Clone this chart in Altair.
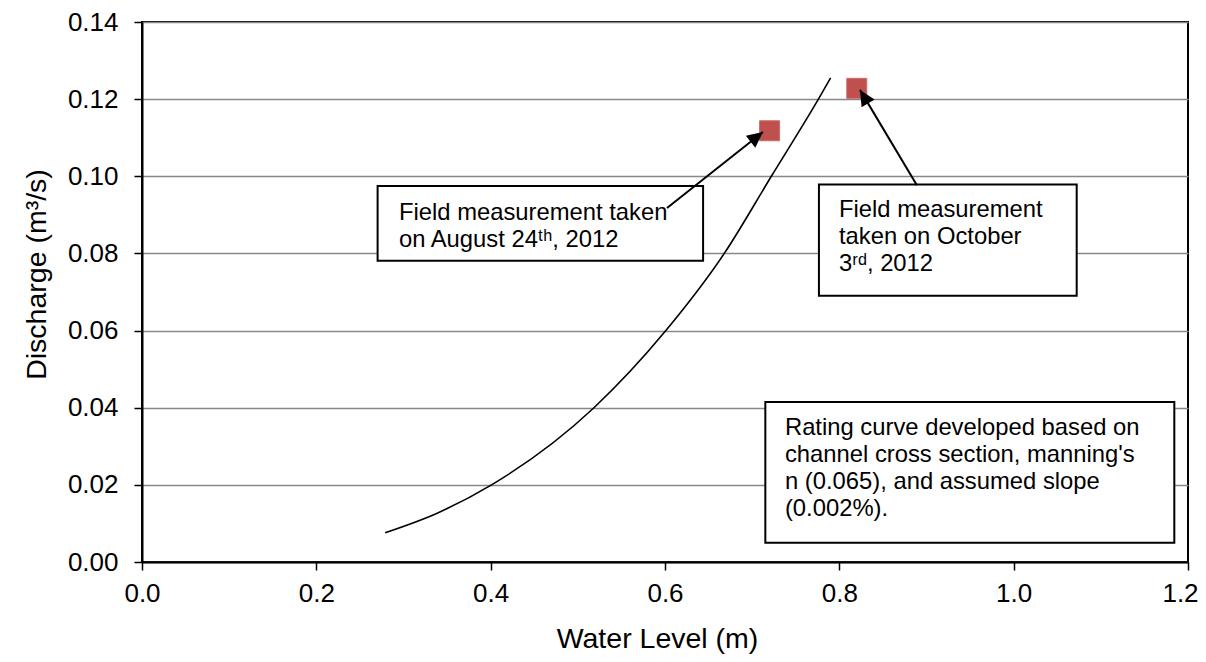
import math
import altair as alt
import pandas as pd

# ---- data ----
curve_level = [0.279, 0.338, 0.401, 0.5185, 0.601, 0.668, 0.722, 0.776, 0.790]
curve_discharge = [0.0076, 0.0126, 0.020, 0.040, 0.060, 0.080, 0.100, 0.120, 0.1255]

field_level = [0.72, 0.82]
field_discharge = [0.1118, 0.1228]

x_ticks = [0.0, 0.2, 0.4, 0.6, 0.8, 1.0, 1.2]
y_ticks = [0.00, 0.02, 0.04, 0.06, 0.08, 0.10, 0.12, 0.14]

note_lines = [
    ["Field measurement taken", "on August 24\u1d57\u02b0, 2012"],
    ["Field measurement", "taken on October", "3\u02b3\u1d48, 2012"],
    ["Rating curve developed based on", "channel cross section, manning's",
     "n (0.065), and assumed slope", "(0.002%)."],
]
note_box_x1 = [0.2703, 0.7766, 0.7151]
note_box_x2 = [0.6437, 1.0723, 1.1843]
note_box_y1 = [0.0781, 0.0690, 0.0050]
note_box_y2 = [0.0975, 0.0979, 0.0415]
note_text_x = [0.2948, 0.7996, 0.7376]
note_text_y = [0.0887, 0.0895, 0.0329]

arrow_x_from = [0.6023, 0.8890]
arrow_y_from = [0.0918, 0.0977]
arrow_x_to = [0.7124, 0.8237]
arrow_y_to = [0.1115, 0.1224]

# ---- layout ----
W, H = 1046, 540
X_MAX, Y_MAX = 1.2, 0.14
FONT = "Liberation Sans"

curve_df = pd.DataFrame({"level": curve_level, "q": curve_discharge})
field_df = pd.DataFrame({"level": field_level, "q": field_discharge})
box_df = pd.DataFrame({"x1": note_box_x1, "x2": note_box_x2, "y1": note_box_y1, "y2": note_box_y2})
text_df = pd.DataFrame({"x": note_text_x, "y": note_text_y, "t": note_lines})

angles = []
for xf, yf, xt, yt in zip(arrow_x_from, arrow_y_from, arrow_x_to, arrow_y_to):
    dx = (xt - xf) * W / X_MAX
    dy = -(yt - yf) * H / Y_MAX
    angles.append(math.degrees(math.atan2(dx, -dy)) % 360)
arrow_df = pd.DataFrame({"x0": arrow_x_from, "y0": arrow_y_from,
                         "x1": arrow_x_to, "y1": arrow_y_to, "ang": angles})

xs = alt.Scale(domain=[0, X_MAX], nice=False, zero=False)
ys = alt.Scale(domain=[0, Y_MAX], nice=False, zero=False)

x_axis = alt.Axis(values=x_ticks, format=".1f", title="Water Level (m)", grid=False,
                  tickSize=8, labelPadding=10, titleX=515, titleY=85,
                  titleBaseline="alphabetic", titleAlign="center",
                  labelOffset={"condition": {"test": "datum.value >= 1.19", "value": -8}, "value": 0})
y_axis = alt.Axis(values=y_ticks, format=".2f", title="Discharge (m\u00b3/s)", grid=True,
                  tickSize=8, labelPadding=16, titleX=-106, titleY=252,
                  titleBaseline="middle", titleAlign="center", titleAngle=-90)

curve = alt.Chart(curve_df).mark_line(color="black", strokeWidth=1.6, interpolate="monotone").encode(
    x=alt.X("level:Q", scale=xs, axis=x_axis),
    y=alt.Y("q:Q", scale=ys, axis=y_axis),
)

boxes = alt.Chart(box_df).mark_rect(fill="white", stroke="black", strokeWidth=2).encode(
    x=alt.X("x1:Q", scale=xs), x2="x2:Q",
    y=alt.Y("y1:Q", scale=ys), y2="y2:Q",
)

texts = alt.Chart(text_df).mark_text(align="left", baseline="alphabetic", fontSize=23.8,
                                     lineHeight=27, font=FONT, color="black").encode(
    x=alt.X("x:Q", scale=xs), y=alt.Y("y:Q", scale=ys), text="t",
)

points = alt.Chart(field_df).mark_point(shape="square", filled=True, size=400, fill="#C0504D",
                                        stroke="#CC6B69", strokeWidth=1, opacity=1).encode(
    x=alt.X("level:Q", scale=xs), y=alt.Y("q:Q", scale=ys),
)

shafts = alt.Chart(arrow_df).mark_rule(color="black", strokeWidth=2).encode(
    x=alt.X("x0:Q", scale=xs), y=alt.Y("y0:Q", scale=ys), x2="x1:Q", y2="y1:Q",
)

heads = alt.Chart(arrow_df).mark_point(shape="M0,0L-0.48,1L0.48,1Z", filled=True, size=1000,
                                       color="black", opacity=1).encode(
    x=alt.X("x1:Q", scale=xs), y=alt.Y("y1:Q", scale=ys),
    angle=alt.Angle("ang:Q", scale=None),
)

chart = alt.layer(curve, boxes, texts, points, shafts, heads).properties(
    width=W, height=H,
    autosize=alt.AutoSizeParams(type="none"),
    padding={"left": 134, "top": 14, "right": 10, "bottom": 92},
    background="white",
).configure_view(
    stroke="black", strokeWidth=2,
).configure_axis(
    labelFont=FONT, titleFont=FONT, labelFontSize=26, titleFontSize=28.5,
    labelColor="black", titleColor="black", titleFontWeight="normal",
    domainColor="black", domainWidth=2, tickColor="black", tickWidth=1.5,
    gridColor="#888888", gridWidth=1.5, labelFlush=False,
)

chart.save("out.html", embed_options={"renderer": "svg", "actions": False})
